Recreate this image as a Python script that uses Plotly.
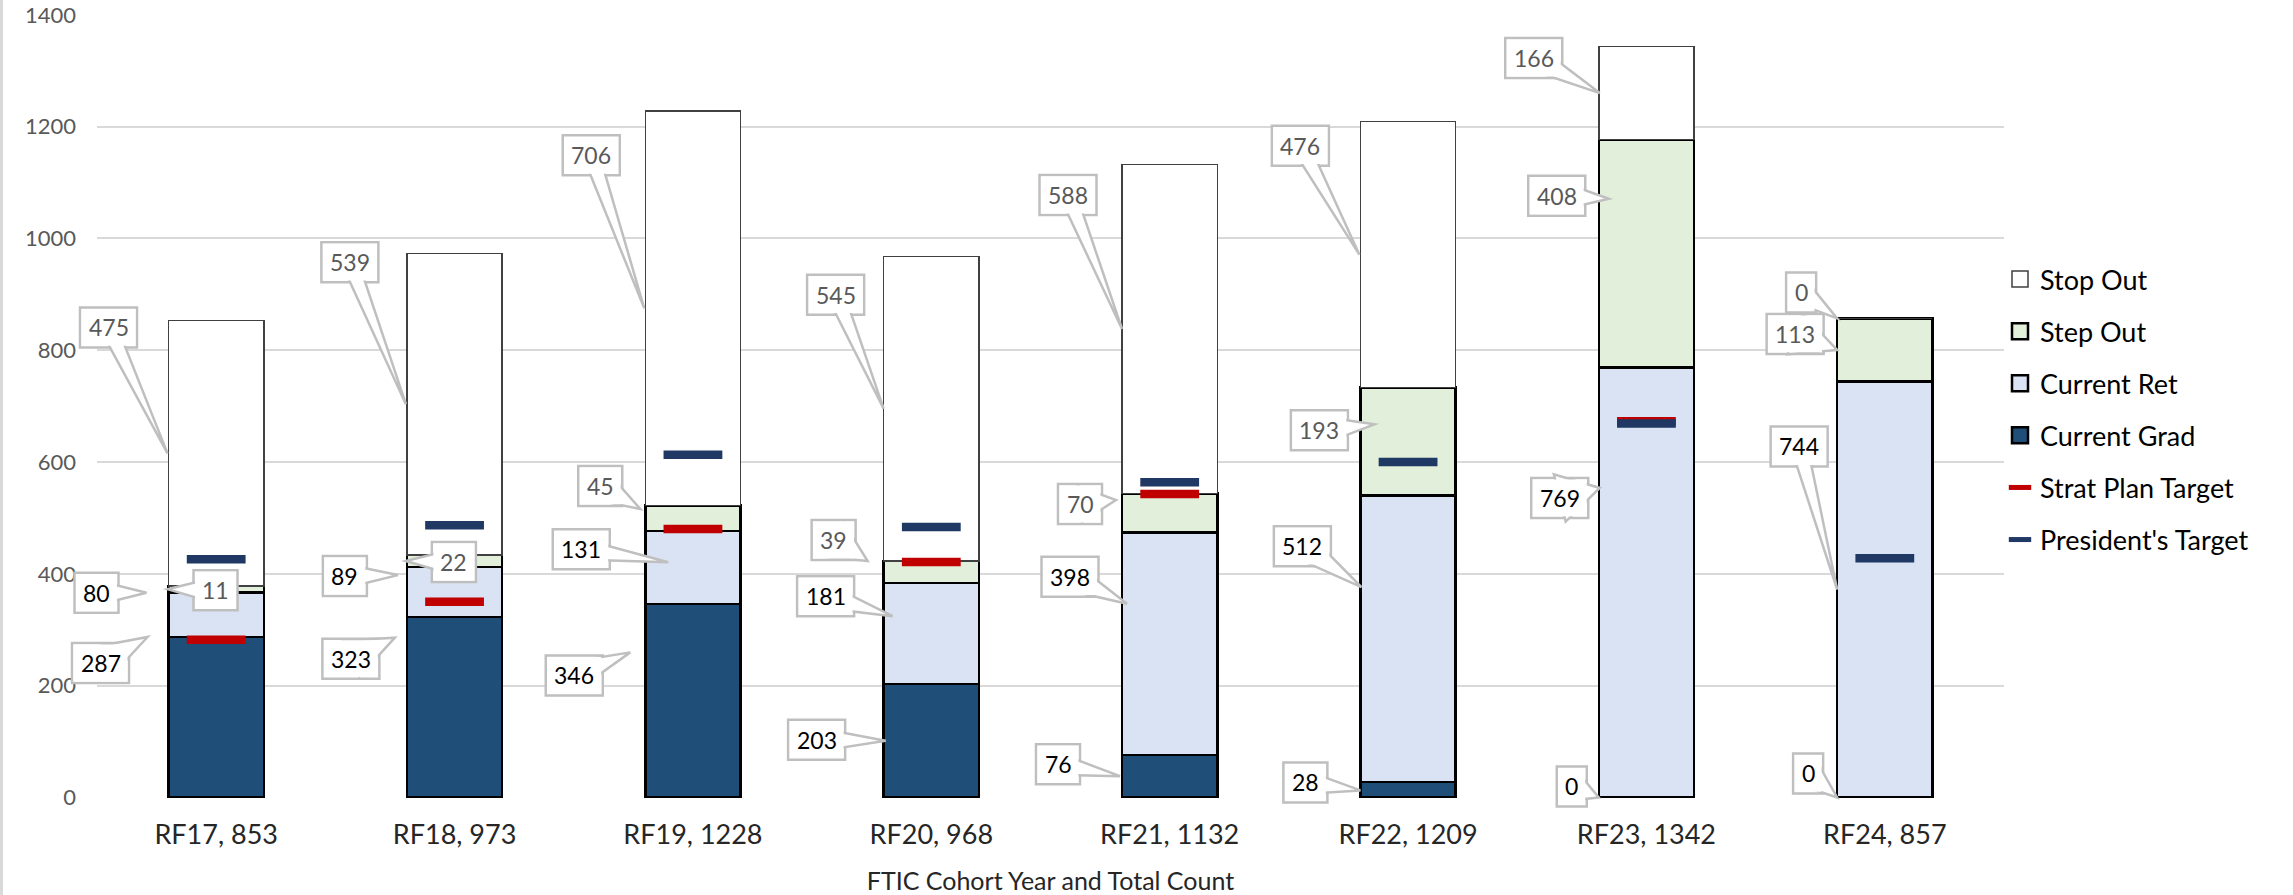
import math
import plotly.graph_objects as go

# ---- data ---------------------------------------------------------------
cohorts = ["RF17, 853", "RF18, 973", "RF19, 1228", "RF20, 968",
           "RF21, 1132", "RF22, 1209", "RF23, 1342", "RF24, 857"]
current_grad = [287, 323, 346, 203, 76, 28, 0, 0]
current_ret = [80, 89, 131, 181, 398, 512, 769, 744]
step_out = [11, 22, 45, 39, 70, 193, 408, 113]
stop_out = [475, 539, 706, 545, 588, 476, 166, 0]
strat_plan_target = [282, 350, 480, 421, 543, None, 673, None]
presidents_target = [426, 487, 613, 484, 564, 600, 669, 428]
y_ticks = [0, 200, 400, 600, 800, 1000, 1200, 1400]

# ---- page geometry ------------------------------------------------------
W, H = 2293, 895
M_L, M_R, M_T, M_B = 97, 289, 14, 97
PLOT_W = W - M_L - M_R
PLOT_H = H - M_T - M_B
Y_RANGE = [-1, 1401.5]
X_RANGE = [-0.5, len(cohorts) - 0.5]
BAR_W = 0.4
HALF_BAR_PX = BAR_W / 2 * PLOT_W / len(cohorts)

FONT = "Lato"
GRID = "#d9d9d9"
CALLOUT_LINE = "#bfbfbf"

# callout placement per segment: (fraction up the segment where the leader
# points, leader tip x-offset from bar's left edge, box offset dx, dy in px)
callout_layout = {
    "Current Grad": [(1.0, -21, -47, 26), (0.885, -12, -44, 21), (0.75, -15, -56, 23),
                     (0.5, 2, -69, -1), (0.5, -2, -62, -12), (0.45, 0, -55, -8),
                     (0.0, 0, -27, -11), (0.0, 0, -29, -24)],
    "Current Ret": [(0.99, -22, -50, 0), (0.84, -9, -53, 1), (0.57, 23, -87, -13),
                    (0.67, 9, -67, -20), (0.68, 5, -57, -27), (0.68, 1, -59, -41),
                    (0.72, 1, -40, 10), (0.5, 0, -38, -143)],
    "Step Out": [(0.5, -1, 48, 1), (0.5, -1, 48, 1), (0.87, -5, -40, -23),
                 (1.0, -16, -34, -21), (0.83, -6, -36, 4), (0.66, 14, -55, 6),
                 (0.74, 10, -52, -3), (0.5, 0, -42, -16)],
    "Stop Out": [(0.5, -1, -59, -126), (0.5, -1, -56, -142), (0.5, -1, -53, -153),
                 (0.5, 0, -48, -114), (0.5, 0, -54, -134), (0.5, -1, -59, -109),
                 (0.5, 1, -66, -35), (0.0, 0, -36, -26)],
}

series = [
    ("Current Grad", current_grad, "#1f4e79", "#000000", 2.5, "#000000"),
    ("Current Ret", current_ret, "#dae3f3", "#000000", 2.5, "#000000"),
    ("Step Out", step_out, "#e2efda", "#000000", 2.5, "#595959"),
    ("Stop Out", stop_out, "#ffffff", "#404040", 1.5, "#595959"),
]
legend_rank = {"Stop Out": 1, "Step Out": 2, "Current Ret": 3, "Current Grad": 4,
               "Strat Plan Target": 5, "President's Target": 6}

fig = go.Figure()

for name, vals, fill, edge, lw, _ in series:
    fig.add_trace(go.Bar(
        x=cohorts, y=vals, name=name, width=BAR_W,
        marker=dict(color=fill, line=dict(color=edge, width=lw)),
        legendgroup=name, showlegend=False,
        hoverinfo="skip",
    ))
    # larger square swatch for the legend entry of this series
    fig.add_trace(go.Scatter(
        x=[cohorts[0]], y=[None], name=name, mode="markers",
        marker=dict(symbol="square", size=16, color=fill,
                    line=dict(color=edge, width=lw)),
        legendgroup=name, legendrank=legend_rank[name],
        hoverinfo="skip",
    ))

for name, vals, color in [("Strat Plan Target", strat_plan_target, "#c00000"),
                          ("President's Target", presidents_target, "#1f3864")]:
    fig.add_trace(go.Scatter(
        x=cohorts, y=vals, name=name, mode="markers",
        marker=dict(symbol="line-ew", size=42, color=color,
                    line=dict(color=color, width=8.5)),
        legendgroup=name, legendrank=legend_rank[name],
        hoverinfo="skip",
    ))

# ---- data callouts ------------------------------------------------------
shapes = []
annotations = []


def pix_path(points):
    # points are screen offsets (y down); shape pixel paths use y up
    return "M" + "L".join(f"{x:.2f},{-y:.2f}" for x, y in points) + "Z"


def to_paper_x(i):
    return (i - X_RANGE[0]) / (X_RANGE[1] - X_RANGE[0])


def to_paper_y(v):
    return (v - Y_RANGE[0]) / (Y_RANGE[1] - Y_RANGE[0])


base = [0] * len(cohorts)
for name, vals, _, _, _, text_color in series:
    for i, v in enumerate(vals):
        frac, tip_dx, bdx, bdy = callout_layout[name][i]
        tip_val = base[i] + frac * v
        tx = -HALF_BAR_PX + tip_dx
        ty = 0.0
        cx, cy = tx + bdx, ty + bdy
        label = str(v)
        bw = {1: 30, 2: 44}.get(len(label), 57)
        bh = 40
        rect = [(cx - bw / 2, cy - bh / 2), (cx + bw / 2, cy - bh / 2),
                (cx + bw / 2, cy + bh / 2), (cx - bw / 2, cy + bh / 2)]
        # paper-referenced so callouts may extend past the plotting area
        common = dict(xref="paper", yref="paper", xsizemode="pixel", ysizemode="pixel",
                      xanchor=to_paper_x(i), yanchor=to_paper_y(tip_val), layer="above")
        shapes.append(dict(type="path", path=pix_path(rect), fillcolor="white",
                           line=dict(color=CALLOUT_LINE, width=2.5), **common))
        # leader wedge from box centre to tip
        dx, dy = tx - cx, ty - cy
        L = math.hypot(dx, dy)
        sx = (bw / 2) / abs(dx) if dx else float("inf")
        sy = (bh / 2) / abs(dy) if dy else float("inf")
        e = min(sx, sy) * L
        if L > e + 2:
            hb = 7.0 * L / (L - e)
            nx, ny = -dy / L, dx / L
            tri = [(tx, ty), (cx + nx * hb, cy + ny * hb), (cx - nx * hb, cy - ny * hb)]
            shapes.append(dict(type="path", path=pix_path(tri), fillcolor="white",
                               line=dict(color=CALLOUT_LINE, width=2.5), **common))
        inset = 1.6
        inner = [(cx - bw / 2 + inset, cy - bh / 2 + inset), (cx + bw / 2 - inset, cy - bh / 2 + inset),
                 (cx + bw / 2 - inset, cy + bh / 2 - inset), (cx - bw / 2 + inset, cy + bh / 2 - inset)]
        shapes.append(dict(type="path", path=pix_path(inner), fillcolor="white",
                           line=dict(width=0), **common))
        annotations.append(dict(
            x=cohorts[i], y=tip_val, xref="x", yref="y", text=label,
            showarrow=False, xshift=cx, yshift=-cy,
            font=dict(family=FONT, size=23, color=text_color),
            xanchor="center", yanchor="middle",
        ))
        base[i] += v

# thin frame line along the left edge of the chart area
shapes.append(dict(type="line", xref="paper", yref="paper",
                   x0=-(M_L - 1.5) / PLOT_W, x1=-(M_L - 1.5) / PLOT_W,
                   y0=-M_B / PLOT_H, y1=1 + M_T / PLOT_H,
                   line=dict(color=GRID, width=3)))

fig.update_layout(
    width=W, height=H,
    margin=dict(l=M_L, r=M_R, t=M_T, b=M_B, autoexpand=False),
    paper_bgcolor="white", plot_bgcolor="white",
    barmode="stack",
    font=dict(family=FONT, color="#262626"),
    shapes=shapes, annotations=annotations,
    showlegend=True,
    legend=dict(
        x=(2000 - M_L) / PLOT_W, xanchor="left",
        y=(H - M_B - 255) / PLOT_H, yanchor="top",
        traceorder="grouped", tracegroupgap=14,
        font=dict(family=FONT, size=27, color="#000000"),
        bgcolor="rgba(0,0,0,0)", itemwidth=30,
    ),
    xaxis=dict(
        type="category", range=X_RANGE, autorange=False,
        showgrid=False, showline=False, zeroline=False,
        tickfont=dict(family=FONT, size=27, color="#262626"),
        ticklabelstandoff=18,
        title=dict(text="FTIC Cohort Year and Total Count",
                   font=dict(family=FONT, size=25, color="#262626"), standoff=24),
        automargin=False,
    ),
    yaxis=dict(
        range=Y_RANGE, autorange=False, tickmode="array", tickvals=y_ticks,
        showgrid=True, gridcolor=GRID, gridwidth=2,
        zeroline=False, showline=False,
        tickfont=dict(family=FONT, size=22, color="#595959"),
        ticklabelstandoff=20, automargin=False,
    ),
)

fig.write_html("out.html")
